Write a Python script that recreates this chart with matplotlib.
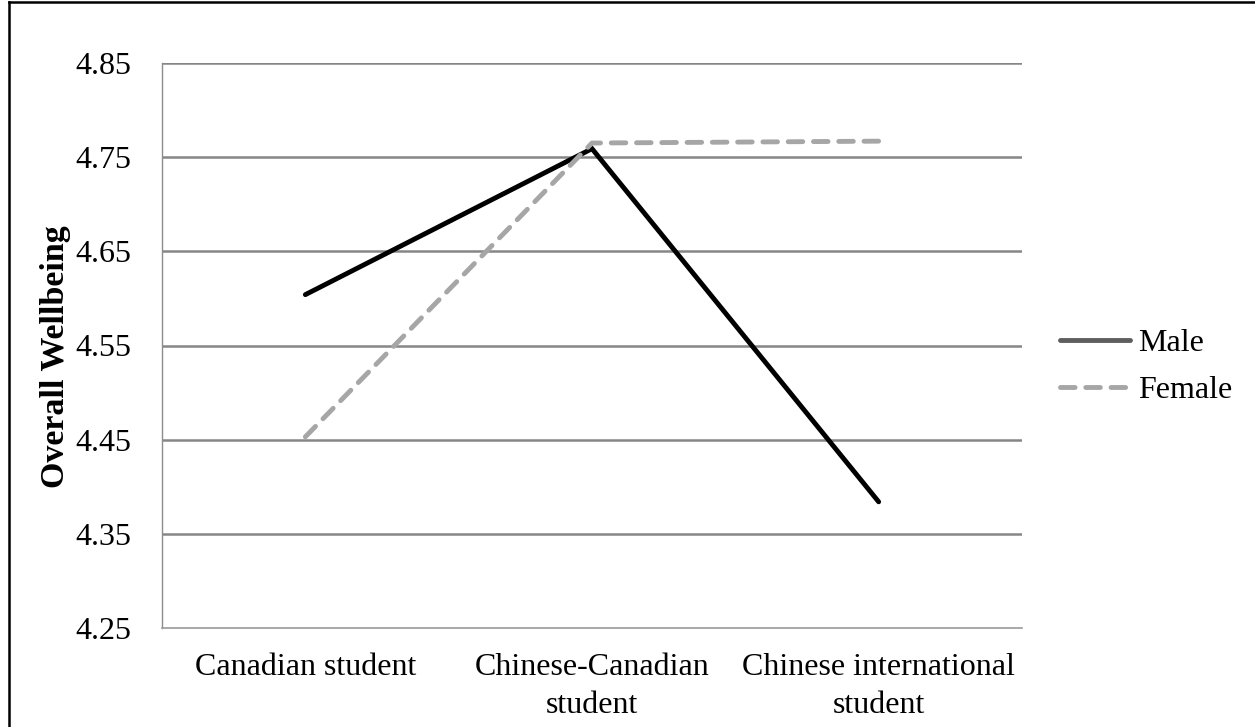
import matplotlib.pyplot as plt
from matplotlib.lines import Line2D

categories = ['Canadian student', 'Chinese-Canadian\nstudent', 'Chinese international\nstudent']
male = [4.604, 4.759, 4.384]
female = [4.453, 4.765, 4.767]
yticks = [4.25, 4.35, 4.45, 4.55, 4.65, 4.75, 4.85]

plt.rcParams['font.family'] = ['Liberation Serif', 'DejaVu Serif']
fs = 23

fig = plt.figure(figsize=(12.55, 7.27), dpi=100)
ax = fig.add_axes([162 / 1255, 1 - 628 / 727, 860 / 1255, 565 / 727])

x = [i + 0.5 for i in range(len(categories))]
ax.plot(x, male, color='black', lw=3.5, solid_capstyle='round', solid_joinstyle='miter', zorder=3)
ax.plot(x, female, color='#A6A6A6', lw=3.5, dashes=(3.0, 2.2), dash_capstyle='round', zorder=3)

ax.set_xlim(0, 3)
ax.set_ylim(4.25, 4.85)
ax.set_yticks(yticks)
ax.set_yticklabels(['%.2f' % v for v in yticks])
ax.set_xticks(x)
ax.set_xticklabels(categories, linespacing=1.4)
for v in yticks[1:]:
    ax.axhline(v, color='#868686', lw=1.8, zorder=1)
ax.tick_params(length=0, labelsize=fs, colors='black')
ax.tick_params(axis='y', pad=22)
ax.tick_params(axis='x', pad=18)
for s in ['top', 'right']:
    ax.spines[s].set_visible(False)
ax.spines['left'].set_color('#8c8c8c')
ax.spines['left'].set_linewidth(1.0)
ax.spines['bottom'].set_color('#9a9a9a')
ax.spines['bottom'].set_linewidth(1.2)
ax.set_ylabel('Overall Wellbeing', fontsize=24.5, fontweight='bold')
ax.yaxis.set_label_coords(-0.106, 0.481)

handles = [Line2D([], [], color='#5e5e5e', lw=3.5, solid_capstyle='round'),
           Line2D([], [], color='#A6A6A6', lw=3.5, dashes=(3.0, 2.2), dash_capstyle='round')]
fig.legend(handles, ['Male', 'Female'], loc='center left', bbox_to_anchor=(1060 / 1255, 1 - 367 / 727),
           frameon=False, fontsize=fs, handlelength=2.2, handletextpad=0.25, labelspacing=0.55,
           borderpad=0, borderaxespad=0)

# chart border (only top and left edges visible)
fig.add_artist(Line2D([9 / 1255, 9 / 1255], [0, 1 - 2 / 727], color='black', lw=1.8, transform=fig.transFigure))
fig.add_artist(Line2D([9 / 1255, 1], [1 - 2 / 727, 1 - 2 / 727], color='black', lw=1.8, transform=fig.transFigure))

fig.savefig('out.png', dpi=100)
